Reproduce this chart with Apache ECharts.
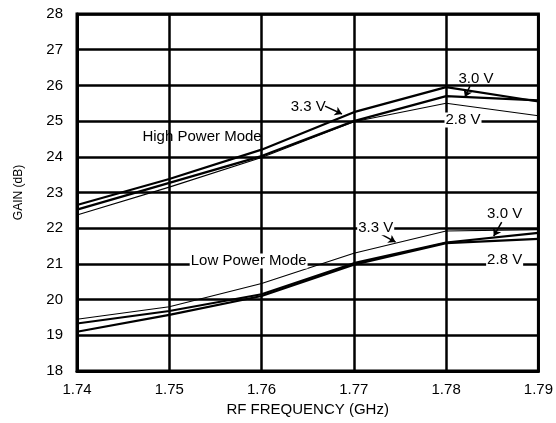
<!DOCTYPE html>
<html>
<head>
<meta charset="utf-8">
<script src="https://cdn.jsdelivr.net/npm/echarts@6/dist/echarts.min.js"></script>
<style>html,body{margin:0;padding:0;background:#fff}#c{width:556px;height:423px}</style>
</head>
<body>
<div id="c"></div>
<script>
const freq = [1.74, 1.75, 1.76, 1.77, 1.78, 1.79];
const high33 = [22.65, 23.38, 24.2, 25.25, 25.95, 25.55];
const high30 = [22.52, 23.27, 24.02, 25.0, 25.7, 25.58];
const high28 = [22.37, 23.15, 23.98, 24.98, 25.5, 25.15];
const low33 = [19.45, 19.8, 20.45, 21.3, 21.92, 21.96];
const low30 = [19.33, 19.68, 20.15, 21.02, 21.6, 21.87];
const low28 = [19.1, 19.57, 20.1, 20.98, 21.58, 21.7];

// annotation texts with anchor positions in data space
const labels = [
  {text: 'High Power Mode', at: [1.75355, 24.56], bg: false},
  {text: '3.3 V', at: [1.76505, 25.40], bg: false},
  {text: '3.0 V', at: [1.78323, 26.18], bg: false},
  {text: '2.8 V', at: [1.78183, 25.03], bg: true},
  {text: 'Low Power Mode', at: [1.75860, 21.08], bg: true},
  {text: '3.3 V', at: [1.77237, 22.01], bg: true},
  {text: '3.0 V', at: [1.78634, 22.40], bg: false},
  {text: '2.8 V', at: [1.78634, 21.11], bg: true}
];
const arrows = [
  [[1.76688, 25.42], [1.76871, 25.20]],
  [[1.78258, 25.98], [1.78204, 25.675]],
  [[1.77290, 21.84], [1.77452, 21.61]],
  [[1.78602, 22.17], [1.78516, 21.78]]
];

const FONT = "'Liberation Sans', Arial, sans-serif";
function pairs(ys) { return freq.map((f, i) => [f, ys[i]]); }
function ser(name, ys, w) {
  return {name, type: 'line', data: pairs(ys), showSymbol: false, symbol: 'none',
    lineStyle: {color: '#000', width: w}, z: 3, animation: false};
}

const series = [
  ser('High 3.3 V', high33, 2.2),
  ser('High 3.0 V', high30, 2.2),
  ser('High 2.8 V', high28, 1.1),
  ser('Low 3.3 V', low33, 1.1),
  ser('Low 3.0 V', low30, 2.2),
  ser('Low 2.8 V', low28, 2.2)
];
series.push({
  name: 'annotations', type: 'line', data: [], z: 5, animation: false,
  markPoint: {
    silent: true, animation: false,
    symbol: 'circle', symbolSize: 1,
    itemStyle: {color: 'rgba(0,0,0,0)'},
    data: labels.map(l => ({
      coord: l.at,
      label: {show: true, position: 'inside', formatter: l.text, color: '#000',
        fontSize: 15, fontFamily: FONT,
        backgroundColor: l.bg ? '#fff' : 'transparent', padding: [0, 1]}
    }))
  },
  markLine: {
    silent: true, animation: false,
    symbol: ['none', 'arrow'], symbolSize: 7,
    lineStyle: {color: '#000', width: 1.5, type: 'solid'},
    label: {show: false},
    data: arrows.map(a => [{coord: a[0]}, {coord: a[1]}])
  }
});

const chart = echarts.init(document.getElementById('c'), null, {renderer: 'canvas'});
chart.setOption({
  animation: false,
  backgroundColor: '#fff',
  grid: {left: 77, right: 14, top: 14, bottom: 52, show: true, borderWidth: 3, borderColor: '#000'},
  xAxis: {
    type: 'value', min: 1.74, max: 1.79, interval: 0.01,
    name: 'RF FREQUENCY (GHz)', nameLocation: 'middle', nameGap: 31,
    nameTextStyle: {color: '#000', fontSize: 15, fontFamily: FONT},
    axisLine: {show: true, lineStyle: {color: '#000', width: 3}},
    axisTick: {show: false},
    axisLabel: {color: '#000', fontSize: 15, fontFamily: FONT, margin: 11,
      formatter: v => v.toFixed(2)},
    splitLine: {show: true, lineStyle: {color: '#000', width: 2.5}}
  },
  yAxis: {
    type: 'value', min: 18, max: 28, interval: 1,
    name: 'GAIN (dB)', nameLocation: 'middle', nameGap: 52, nameRotate: 90,
    nameTextStyle: {color: '#000', fontSize: 12, fontFamily: FONT},
    axisLine: {show: true, lineStyle: {color: '#000', width: 3}},
    axisTick: {show: false},
    axisLabel: {color: '#000', fontSize: 15, fontFamily: FONT, margin: 14},
    splitLine: {show: true, lineStyle: {color: '#000', width: 2.5}}
  },
  series: series
});
</script>
</body>
</html>
